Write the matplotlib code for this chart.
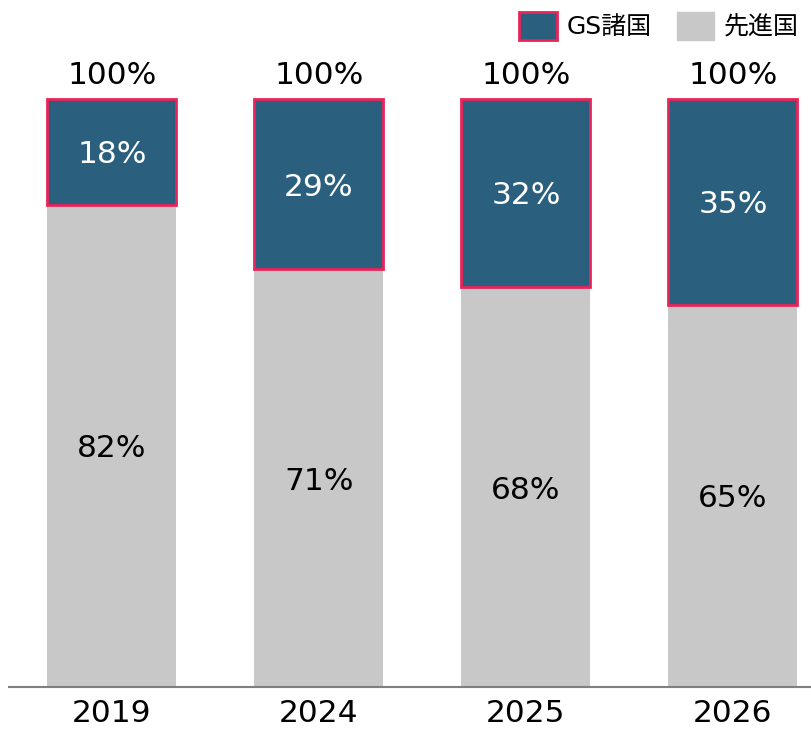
import matplotlib.pyplot as plt
from matplotlib.patches import Patch

plt.rcParams['font.family'] = ['DejaVu Sans', 'Noto Sans CJK JP']

years = ["2019", "2024", "2025", "2026"]
gs_share = [18, 29, 32, 35]
adv_share = [82, 71, 68, 65]
totals = ["100%", "100%", "100%", "100%"]

BLUE = "#2a5f7e"
PINK = "#e8245a"
GRAY = "#c8c8c8"

fig = plt.figure(figsize=(8.12, 7.31), dpi=100)
ax = fig.add_axes([8 / 812, 0, 804 / 812, 1])
x = list(range(len(years)))

ax.bar(x, adv_share, width=0.623, color=GRAY, zorder=2)
ax.bar(x, gs_share, width=0.623, bottom=adv_share, color=BLUE,
       edgecolor=PINK, linewidth=2, zorder=3)

fs = 22.5
for i in x:
    ax.text(i, adv_share[i] / 2, f"{adv_share[i]}%", ha="center", va="center_baseline",
            fontsize=fs, color="black", zorder=4)
    ax.text(i, adv_share[i] + gs_share[i] / 2, f"{gs_share[i]}%", ha="center",
            va="center_baseline", fontsize=fs, color="white", zorder=4)
    ax.text(i, 101.5, totals[i], ha="center", va="bottom", fontsize=fs)
    ax.text(i, -2.0, years[i], ha="center", va="top", fontsize=fs)

ax.axhline(0, color="#808080", linewidth=1.5, zorder=5)
ax.set_xlim(-0.502, 3.382)
ax.set_ylim(-7.48, 116.8)
ax.axis("off")

handles = [Patch(facecolor=BLUE, edgecolor=PINK, linewidth=2, label="GS諸国"),
           Patch(facecolor=GRAY, edgecolor=GRAY, label="先進国")]
fig.legend(handles=handles, loc="upper right", bbox_to_anchor=(1.012, 1.014),
           ncol=2, frameon=False, fontsize=18, handlelength=1.5,
           handleheight=1.3, handletextpad=0.4, columnspacing=1.0)

fig.savefig("out.png", dpi=100)
